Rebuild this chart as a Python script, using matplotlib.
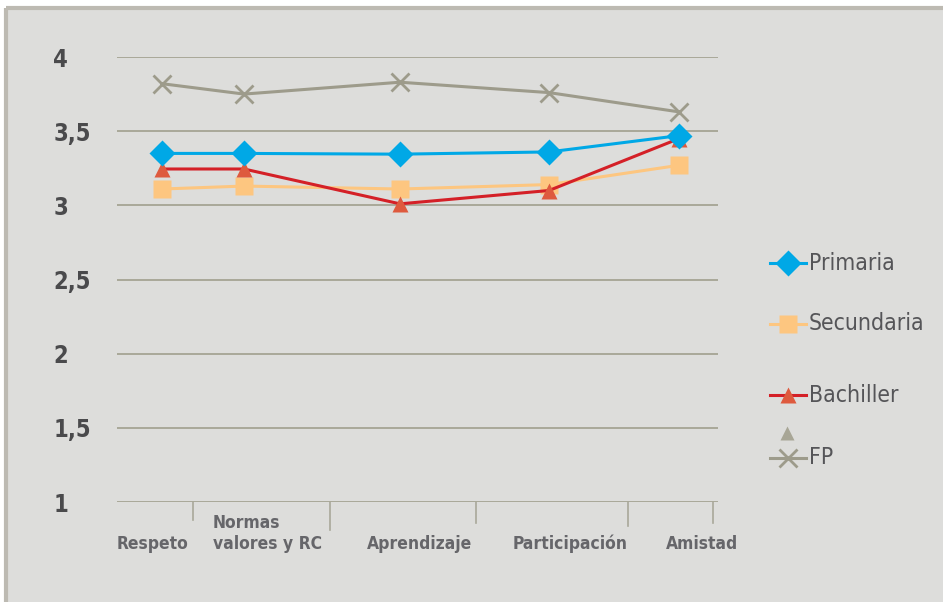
import matplotlib
matplotlib.use("Agg")
import matplotlib.pyplot as plt

categories = ["Respeto", "Normas\nvalores y RC", "Aprendizaje", "Participación", "Amistad"]
primaria = [3.35, 3.35, 3.345, 3.36, 3.47]
secundaria = [3.11, 3.13, 3.11, 3.14, 3.27]
bachiller = [3.245, 3.245, 3.01, 3.10, 3.45]
fp = [3.82, 3.75, 3.83, 3.76, 3.63]
y_ticks = [1, 1.5, 2, 2.5, 3, 3.5, 4]
y_tick_labels = ["1", "1,5", "2", "2,5", "3", "3,5", "4"]

# layout (pixel-like horizontal coordinates of the original drawing)
x_pos = [162, 244, 400, 549, 679]
sep_ticks = [193, 330, 476, 628, 713]
sep_len = [0.12, 0.19, 0.14, 0.16, 0.14]
label_x = [153, 213, 420, 570, 702]
label_ha = ["center", "left", "center", "center", "center"]

FAM = "DejaVu Sans"

BG = "#dddddb"
W, H = 943, 602
fig = plt.figure(figsize=(W / 100, H / 100), dpi=100)
fig.patch.set_facecolor("white")

frame = fig.add_axes([0, 0, 1, 1])
frame.set_xlim(0, W)
frame.set_ylim(H, 0)
frame.axis("off")
frame.add_patch(plt.Rectangle((6, 8), W, H, facecolor=BG, edgecolor="none"))
frame.plot([6, 6], [8, H], color="#bdbab2", lw=3, solid_capstyle="butt")
frame.plot([6, W], [8, 8], color="#bdbab2", lw=3, solid_capstyle="butt")

x0, x1 = 117, 718
ytop, ybot = 57, 502
ax = fig.add_axes([x0 / W, 1 - ybot / H, (x1 - x0) / W, (ybot - ytop) / H])
ax.set_facecolor("none")
ax.set_xlim(x0, x1)
ax.set_ylim(1, 4)
for s in ax.spines.values():
    s.set_visible(False)
ax.set_yticks(y_ticks)
ax.set_yticklabels(y_tick_labels)
ax.tick_params(axis="y", length=0, pad=46)
for lab in ax.get_yticklabels():
    lab.set_fontfamily(FAM)
    lab.set_fontstretch("condensed")
    lab.set_fontweight("bold")
    lab.set_fontsize(17)
    lab.set_color("#4a4a4c")
    lab.set_horizontalalignment("left")
ax.set_xticks([])
for v in y_ticks:
    ax.axhline(v, color="#a9a899", lw=1.4, zorder=1)

for i, t in enumerate(sep_ticks):
    ax.plot([t, t], [1, 1 - sep_len[i]], color="#a9a899", lw=1.2, clip_on=False)

for i, c in enumerate(categories):
    ax.text(label_x[i], 1 - 0.345, c, ha=label_ha[i], va="bottom", fontsize=12.5,
            fontfamily=FAM, fontstretch="condensed", fontweight="bold", color="#66666a",
            linespacing=1.2, clip_on=False)

ax.plot(x_pos, fp, color="#9d9b8b", lw=2.2, marker="x", ms=13, mew=2, zorder=3, clip_on=False)
ax.plot(x_pos, secundaria, color="#fdc680", lw=2.2, marker="s", ms=13, mec="none", zorder=4, clip_on=False)
ax.plot(x_pos, bachiller, color="#d42027", lw=2.2, zorder=5, clip_on=False)
ax.plot(x_pos, bachiller, ls="none", marker="^", ms=12, color="#de5a3e", mec="none", zorder=5, clip_on=False)
ax.plot(x_pos, primaria, color="#00a8e6", lw=2.2, marker="D", ms=13, mec="none", zorder=6, clip_on=False)

leg_items = [
    ("Primaria", "#00a8e6", "#00a8e6", "D", 263, 13),
    ("Secundaria", "#fdc680", "#fdc680", "s", 324, 13),
    ("Bachiller", "#d42027", "#de5a3e", "^", 395, 12),
    ("FP", "#9d9b8b", "#9d9b8b", "x", 458, 13),
]
for name, lc, mc, m, yp, ms in leg_items:
    frame.plot([770, 806], [yp, yp], color=lc, lw=2.2)
    if m == "x":
        frame.plot([788], [yp], marker=m, ms=ms, mew=2, color=mc)
    else:
        frame.plot([788], [yp], marker=m, ms=ms, color=mc, mec="none")
    frame.text(809, yp, name, ha="left", va="center", fontsize=16.5,
               fontfamily=FAM, fontstretch="condensed", color="#555558")
frame.plot([787], [433], marker="^", ms=10, color="#a8a696", mec="none")

fig.savefig("out.png", dpi=100, facecolor=fig.get_facecolor())
